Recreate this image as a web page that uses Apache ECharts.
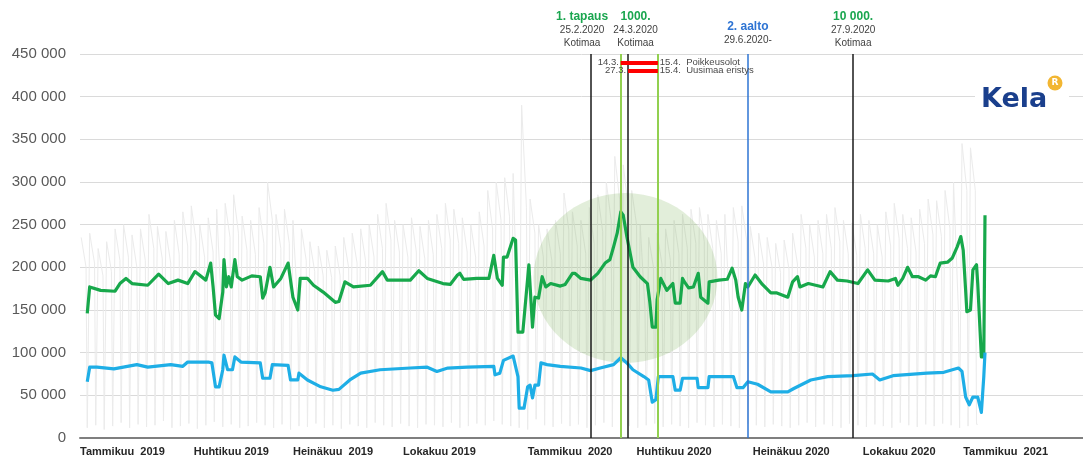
<!DOCTYPE html>
<html>
<head>
<meta charset="utf-8">
<title>Kela</title>
<script src="https://cdn.jsdelivr.net/npm/echarts@6.0.0/dist/echarts.min.js"></script>
<style>
  html, body { margin: 0; padding: 0; background: #fff; }
  #chart { width: 1083px; height: 462px; }
</style>
</head>
<body>
<div id="chart"></div>
<script>
// x = päivä, 0 = 1.1.2019 ; arvot tuhansina
var tickDays = [-2, 92, 174, 265, 368, 458, 554, 645, 728]
var tickLabels = ['Tammikuu  2019', 'Huhtikuu 2019', 'Heinäkuu  2019', 'Lokakuu 2019', 'Tammikuu  2020',
  'Huhtikuu 2020', 'Heinäkuu 2020', 'Lokakuu 2020', 'Tammikuu  2021']

// harmaa taustasarja viikoittain (maanantai, perjantai, viikonloppu)
var greyPeak = [235, 240, 222, 230, 245, 250, 238, 245, 262, 248, 242, 255, 265, 272, 250, 258, 268, 275, 285, 260,
  255, 270, 300, 262, 268, 255, 245, 230, 225, 220, 225, 235, 240, 245, 250, 262, 275, 255, 250, 258,
  248, 255, 262, 275, 268, 258, 250, 265, 290, 300, 305, 310, 390, 280, 250, 245, 255, 287, 265, 255,
  270, 285, 300, 330, 320, 290, 250, 235, 240, 245, 255, 262, 268, 270, 262, 255, 262, 270, 272, 248,
  240, 235, 228, 232, 240, 262, 250, 255, 262, 270, 255, 252, 262, 255, 250, 265, 275, 262, 258, 268,
  280, 278, 290, 300, 345, 340]
var greyFri = [200, 205, 190, 195, 208, 212, 200, 208, 222, 210, 205, 215, 225, 230, 212, 218, 150, 235, 240, 220,
  215, 228, 255, 222, 228, 150, 208, 195, 190, 188, 190, 200, 205, 208, 212, 222, 232, 218, 212, 218,
  210, 215, 222, 232, 228, 218, 212, 225, 245, 255, 260, 120, 270, 240, 212, 208, 216, 244, 225, 216,
  228, 242, 255, 280, 272, 250, 150, 200, 204, 208, 216, 222, 228, 230, 222, 216, 150, 230, 232, 210,
  204, 200, 194, 198, 204, 222, 212, 216, 222, 230, 216, 214, 222, 216, 212, 225, 234, 222, 218, 228,
  238, 236, 246, 150, 290, 290]
var greyLow = [12, 15, 10, 14, 18, 12, 16, 13, 15, 20, 12, 14, 17, 11, 15, 19, 13, 16, 12, 14,
  18, 15, 12, 16, 10, 14, 13, 17, 12, 15, 11, 16, 14, 12, 18, 15, 13, 17, 14, 12,
  16, 15, 13, 18, 12, 14, 17, 15, 20, 16, 14, 12, 10, 22, 15, 13, 17, 14, 16, 12,
  15, 18, 13, 16, 14, 12, 15, 17, 13, 16, 14, 12, 18, 15, 13, 16, 14, 12, 17, 15,
  13, 16, 14, 12, 15, 18, 13, 16, 14, 12, 17, 15, 13, 16, 14, 12, 18, 15, 13, 16,
  14, 17, 15, 12, 14, 16]

var greenDays = [4, 6, 15, 27, 31, 36, 41, 54, 63, 71, 79, 87, 93, 102, 106, 108, 110, 113, 116, 117,
  119, 121, 123, 126, 128, 132, 140, 147, 149, 151, 155, 158, 164, 170, 174, 178, 180, 186, 191, 199,
  209, 212, 217, 224, 238, 248, 252, 271, 278, 285, 298, 304, 310, 312, 315, 326, 336, 340, 343, 347,
  348, 351, 356, 358, 360, 364, 369, 372, 374, 377, 380, 383, 387, 395, 399, 405, 407, 412, 420, 426,
  432, 436, 439, 442, 445, 447, 450, 455, 461, 467, 469, 471, 474, 475, 478, 483, 488, 490, 494, 496,
  498, 501, 505, 509, 511, 517, 518, 526, 533, 537, 540, 542, 545, 548, 550, 556, 562, 569, 574, 583,
  587, 591, 593, 600, 612, 618, 624, 632, 641, 649, 655, 666, 672, 674, 678, 682, 686, 691, 697, 701,
  705, 709, 715, 719, 723, 726, 728, 730, 731, 734, 736, 739, 740, 743, 745, 746]
var greenValues = [146, 177, 173, 172, 181, 187, 181, 179, 192, 181, 185, 181, 195, 185, 205, 177, 144, 140, 171, 209,
  177, 189, 177, 209, 189, 185, 190, 189, 164, 170, 200, 177, 187, 205, 165, 150, 187, 187, 179, 171,
  159, 160, 183, 177, 179, 195, 185, 185, 196, 187, 181, 180, 191, 193, 186, 187, 187, 214, 187, 179,
  212, 212, 234, 232, 124, 124, 203, 130, 165, 164, 189, 177, 181, 178, 180, 193, 193, 187, 185, 193,
  205, 209, 224, 240, 265, 261, 236, 200, 189, 181, 159, 130, 130, 162, 187, 173, 181, 158, 158, 187,
  182, 176, 177, 193, 165, 158, 183, 185, 186, 199, 185, 165, 150, 181, 177, 191, 180, 170, 170, 165,
  183, 189, 177, 181, 177, 195, 185, 184, 181, 197, 185, 184, 187, 179, 187, 200, 189, 189, 185, 190,
  189, 205, 206, 211, 224, 236, 220, 173, 148, 150, 197, 203, 181, 95, 95, 261]

var blueDays = [4, 6, 12, 26, 45, 54, 73, 83, 87, 104, 107, 110, 113, 116, 117, 120, 124, 126, 131, 147,
  149, 155, 157, 170, 172, 178, 179, 186, 197, 207, 212, 221, 230, 246, 271, 285, 293, 302, 318, 340,
  341, 345, 348, 356, 360, 361, 365, 368, 370, 372, 374, 377, 379, 384, 395, 412, 420, 428, 439, 445,
  450, 455, 464, 468, 471, 474, 476, 488, 490, 494, 496, 508, 509, 517, 518, 538, 541, 546, 550, 558,
  569, 583, 588, 602, 616, 637, 653, 659, 670, 698, 712, 724, 727, 730, 733, 736, 740, 743, 745, 746]
var blueValues = [66, 83, 83, 81, 86, 83, 86, 84, 89, 89, 88, 60, 60, 80, 97, 80, 80, 95, 89, 88,
  70, 70, 86, 85, 68, 68, 76, 68, 60, 56, 57, 68, 76, 80, 82, 83, 78, 82, 83, 84,
  74, 76, 91, 96, 72, 35, 35, 60, 62, 47, 62, 62, 88, 86, 84, 82, 79, 82, 86, 94,
  88, 80, 72, 68, 42, 45, 72, 72, 56, 56, 70, 70, 59, 59, 72, 72, 59, 59, 66, 63,
  54, 54, 58, 68, 72, 73, 75, 68, 73, 76, 77, 82, 78, 48, 39, 48, 48, 30, 72, 100]

// pystyviivat
var eventDays = [420.4, 445, 451, 475.5, 550, 637]
var eventTitles = ['1. tapaus', '', '1000.', '', '2. aalto', '10 000.']
var eventDates = ['25.2.2020', '', '24.3.2020', '', '29.6.2020-', '27.9.2020']
var eventPlaces = ['Kotimaa', '', 'Kotimaa', '', '', 'Kotimaa']

// rajoitukset (punaiset palkit)
var limitStart = [445, 451]
var limitEnd = [475.5, 475.5]
var limitLevel = [439800, 430400]
var limitFrom = ['14.3.', '27.3.']
var limitTo = ['15.4.  Poikkeusolot', '15.4.  Uusimaa eristys']

var highlightCenter = [448.8, 187500]

function pairs(days, vals) {
  return days.map(function (d, i) { return [d, vals[i] * 1000] })
}

var greyData = []
greyPeak.forEach(function (p, k) {
  var mon = 7 * k - 1
  greyData.push([mon, p * 1000])
  greyData.push([mon + 4, greyFri[k] * 1000])
  greyData.push([mon + 5, greyLow[k] * 1000])
  greyData.push([mon + 6, greyLow[k] * 1000])
})

var font = 'Liberation Sans'
var eventColors = ['#1a1a1a', '#92d050', '#1a1a1a', '#92d050', '#2e74d3', '#1a1a1a']
var eventPad = [[0, 18, 0, 0], 0, [0, 0, 0, 15], 0, [0, 0, 3, 0], 0]

var eventLines = eventDays.map(function (d, i) {
  var text = ''
  if (eventTitles[i]) {
    text = (i === 4 ? '{bl|' : '{t|') + eventTitles[i] + '}\n{d|' + eventDates[i] + '}'
    if (eventPlaces[i]) text += '\n{d|' + eventPlaces[i] + '}'
  }
  return {
    xAxis: d,
    lineStyle: { color: eventColors[i], width: (i === 1 || i === 3) ? 2 : 1.5, type: 'solid' },
    label: {
      show: !!text,
      position: 'end',
      distance: 4,
      formatter: text,
      padding: eventPad[i],
      rich: {
        t: { fontFamily: font, fontWeight: 'bold', fontSize: 12, color: '#1aa64f', lineHeight: 14 },
        bl: { fontFamily: font, fontWeight: 'bold', fontSize: 12, color: '#2e74d3', lineHeight: 14 },
        d: { fontFamily: font, fontSize: 10, color: '#3f3f3f', lineHeight: 13 }
      }
    }
  }
})

var limitLines = []
limitStart.forEach(function (s, i) {
  var lbl = { fontFamily: font, fontSize: 9.5, color: '#4a4a4a', distance: 2 }
  limitLines.push([
    { coord: [s, limitLevel[i]], label: Object.assign({ show: true, position: 'start', formatter: limitFrom[i] }, lbl) },
    { coord: [limitEnd[i], limitLevel[i]] }
  ])
  limitLines.push([
    { coord: [s, limitLevel[i]], label: Object.assign({ show: true, position: 'end', formatter: limitTo[i] }, lbl) },
    { coord: [limitEnd[i], limitLevel[i]] }
  ])
})

var chart = echarts.init(document.getElementById('chart'))
chart.setOption({
  animation: false,
  backgroundColor: '#fff',
  grid: { left: 80, right: 0, top: 54, bottom: 24 },
  xAxis: {
    type: 'value',
    min: -2,
    max: 827,
    axisLine: { show: true, lineStyle: { color: '#7f7f7f', width: 2 } },
    axisTick: { show: false },
    splitLine: { show: false },
    axisLabel: {
      customValues: tickDays,
      align: 'left',
      margin: 8,
      fontFamily: font,
      fontSize: 11,
      fontWeight: 'bold',
      color: '#262626',
      formatter: function (v) {
        var i = tickDays.indexOf(v)
        return i >= 0 ? tickLabels[i] : ''
      }
    }
  },
  yAxis: {
    type: 'value',
    min: 0,
    max: 450000,
    interval: 50000,
    axisLine: { show: false },
    axisTick: { show: false },
    splitLine: { lineStyle: { color: '#dadada', width: 1 } },
    axisLabel: {
      margin: 14,
      fontFamily: font,
      fontSize: 15,
      color: '#595959',
      formatter: function (v) { return v === 0 ? '0' : (v / 1000) + ' 000' }
    }
  },
  series: [
    {
      name: 'kaikki',
      type: 'line',
      data: greyData,
      symbol: 'none',
      z: 1,
      lineStyle: { color: '#ebebeb', width: 1 },
      silent: true
    },
    {
      name: 'ympyra',
      type: 'scatter',
      data: [highlightCenter],
      symbol: 'circle',
      symbolSize: [184, 170],
      itemStyle: { color: 'rgba(112,168,72,0.25)' },
      z: 2,
      silent: true,
      markLine: {
        symbol: 'none',
        silent: true,
        data: eventLines.concat(limitLines.map(function (l) {
          l[0].lineStyle = { color: '#ff0000', width: 4, type: 'solid' }
          return l
        }))
      }
    },
    {
      name: 'vihrea',
      type: 'line',
      data: pairs(greenDays, greenValues),
      symbol: 'none',
      z: 3,
      lineStyle: { color: '#17a84b', width: 3.2, join: 'round' }
    },
    {
      name: 'sininen',
      type: 'line',
      data: pairs(blueDays, blueValues),
      symbol: 'none',
      z: 3,
      lineStyle: { color: '#1eaee6', width: 3.2, join: 'round' }
    }
  ],
  graphic: [
    {
      type: 'rect',
      shape: { x: 975, y: 74, width: 94, height: 46 },
      style: { fill: '#fff' },
      z: 50
    },
    {
      type: 'text',
      left: 981,
      top: 86,
      z: 51,
      style: { text: 'Kela', font: 'bold 27px "DejaVu Sans"', fill: '#1a3f8c' }
    },
    {
      type: 'circle',
      shape: { cx: 1055, cy: 83, r: 7.5 },
      style: { fill: '#f2b632' },
      z: 51
    },
    {
      type: 'text',
      x: 1055,
      y: 83,
      z: 52,
      style: { text: 'R', font: 'bold 9px "DejaVu Sans"', fill: '#fff', align: 'center', verticalAlign: 'middle' }
    }
  ]
})
</script>
</body>
</html>
